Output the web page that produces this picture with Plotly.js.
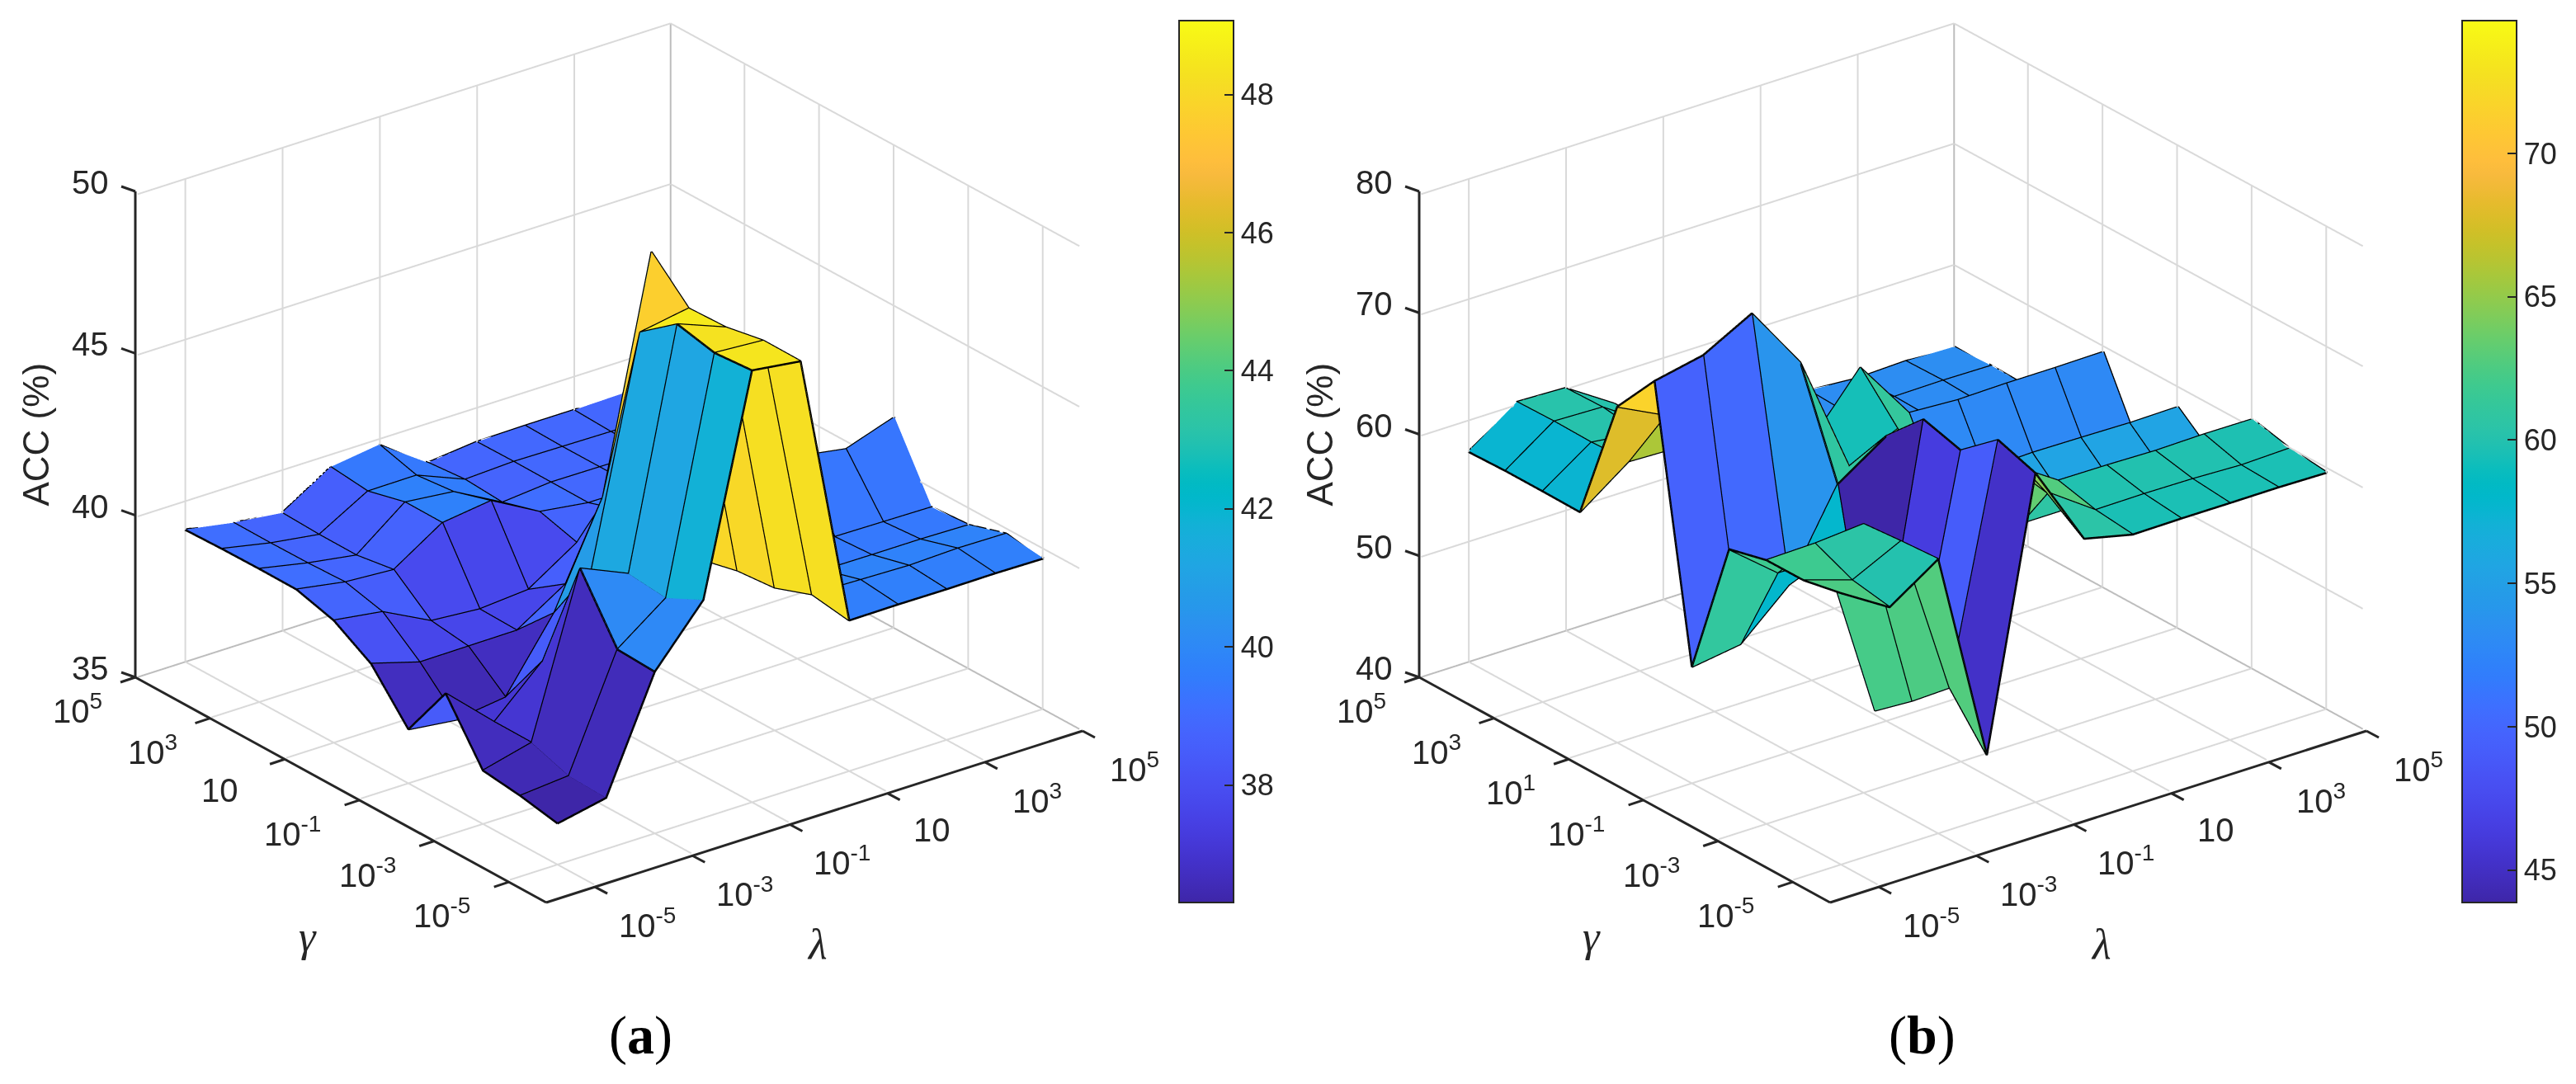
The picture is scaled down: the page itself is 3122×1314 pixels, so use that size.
<!DOCTYPE html>
<html><head><meta charset="utf-8">
<script src="https://cdn.plot.ly/plotly-3.0.1.min.js"></script>
<style>html,body{margin:0;padding:0;background:#fff}#plot{width:3122px;height:1314px}</style>
</head><body><div id="plot"></div>
<script>
const lambdaExp=[-5,-4,-3,-2,-1,0,1,2,3,4,5];
const gammaExp=[-5,-4,-3,-2,-1,0,1,2,3,4,5];
const tickExp=[-5,-3,-1,1,3,5];
const lambdaLabels=['10<sup>-5</sup>','10<sup>-3</sup>','10<sup>-1</sup>','10','10<sup>3</sup>','10<sup>5</sup>'];
const gammaLabelsA=['10<sup>-5</sup>','10<sup>-3</sup>','10<sup>-1</sup>','10','10<sup>3</sup>','10<sup>5</sup>'];
const gammaLabelsB=['10<sup>-5</sup>','10<sup>-3</sup>','10<sup>-1</sup>','10<sup>1</sup>','10<sup>3</sup>','10<sup>5</sup>'];
const zTicksA=[35,40,45,50];
const zTicksB=[40,50,60,70,80];
const cbarTicksA=[38,40,42,44,46,48];
const cbarTicksB=[45,50,55,60,65,70];
const zA=[
[36.30,36.61,40.03,41.77,48.39,48.19,39.69,39.70,39.69,39.70,39.68],
[36.53,36.66,40.09,41.20,48.30,48.20,39.87,39.83,39.79,39.84,39.82],
[36.68,37.06,41.97,41.32,48.56,47.98,39.45,39.50,39.49,39.49,39.46],
[38.44,37.07,38.48,40.80,47.68,47.94,39.35,39.42,39.42,39.40,39.38],
[36.70,36.52,36.72,38.85,41.95,49.06,39.08,40.00,41.28,41.03,41.54],
[38.10,37.66,37.67,37.68,38.63,41.20,39.20,39.00,38.95,38.95,38.95],
[38.81,38.59,37.83,37.71,37.83,38.80,39.30,38.95,38.92,38.92,38.92],
[39.14,38.88,38.78,39.75,39.95,39.13,38.92,38.92,38.90,38.90,38.90],
[39.15,38.84,38.60,39.76,39.60,38.79,38.93,38.92,38.90,38.90,38.90],
[39.14,38.83,38.61,39.47,39.48,38.87,38.94,38.92,38.90,38.90,38.90],
[39.11,38.84,38.66,39.60,39.81,38.77,38.93,38.95,38.95,38.98,38.95]];
const zB=[
[62.47,60.02,62.71,45.25,67.24,60.53,59.59,59.63,59.62,59.63,59.56],
[61.85,60.56,62.51,49.15,68.29,62.70,59.93,59.97,59.92,59.77,59.89],
[61.84,61.93,62.25,46.39,65.76,63.30,60.69,60.66,60.57,60.65,60.62],
[61.07,57.87,57.80,43.90,66.64,56.00,55.50,55.50,55.50,55.50,55.70],
[49.68,50.28,53.90,60.89,63.59,58.00,58.20,58.34,58.29,58.22,58.28],
[71.60,72.44,74.60,69.26,59.40,61.20,53.00,52.90,52.90,52.90,52.90],
[67.80,65.84,60.00,60.00,59.90,64.60,59.57,59.34,59.42,59.42,59.47],
[57.42,60.33,60.20,58.00,55.00,55.00,53.50,53.20,53.20,53.20,53.20],
[57.46,60.20,59.70,58.00,55.00,54.00,53.30,53.20,53.20,53.20,53.20],
[57.47,60.26,60.14,57.50,55.00,53.50,53.30,53.30,53.30,53.35,53.30],
[57.38,60.20,60.06,57.50,54.50,53.50,53.40,53.44,53.15,53.29,53.20]];
// Facet colours that differ from the corner height: [row, column, value]
const faceColourB=[[0,4,64.5],[1,4,64.5]];
const parulaRGB=[[.2422,.1504,.6603],[.2504,.165,.7076],[.2578,.1818,.7511],[.2647,.1978,.7952],[.2706,.2147,.8364],[.2751,.2342,.871],[.2783,.2559,.8991],[.2803,.2782,.9221],[.2813,.3006,.9414],[.281,.3228,.9579],[.2795,.3447,.9717],[.276,.3667,.9829],[.2699,.3892,.9906],[.2602,.4123,.9952],[.244,.4358,.9988],[.2206,.4603,.9973],[.1963,.4847,.9892],[.1834,.5074,.9798],[.1786,.5289,.9682],[.1764,.5499,.952],[.1687,.5703,.9359],[.154,.5902,.9218],[.146,.6091,.9079],[.138,.6276,.8973],[.1248,.6459,.8883],[.1113,.6635,.8763],[.0952,.6798,.8598],[.0689,.6948,.8394],[.0297,.7082,.8163],[.0036,.7203,.7917],[.0067,.7312,.766],[.0433,.7411,.7394],[.0964,.75,.712],[.1408,.7584,.6842],[.1717,.767,.6554],[.1938,.7758,.6251],[.2161,.7843,.5923],[.247,.7918,.5567],[.2906,.7973,.5188],[.3406,.8008,.4789],[.3909,.8029,.4354],[.4456,.8024,.3909],[.5044,.7993,.348],[.5616,.7942,.3045],[.6174,.7876,.2612],[.672,.7793,.2227],[.7242,.7698,.191],[.7738,.7598,.1646],[.8203,.7498,.1535],[.8634,.7406,.1596],[.9035,.733,.1774],[.9393,.7288,.21],[.9728,.7298,.2394],[.9956,.7434,.2371],[.997,.7659,.2199],[.9952,.7861,.1999],[.9892,.8086,.1827],[.9786,.831,.1661],[.9676,.8545,.1474],[.961,.8778,.1276],[.9597,.9036,.1118],[.9628,.9292,.1],[.9691,.9555,.09],[.9769,.9839,.0805]];
const parula=parulaRGB.map((c,n)=>[n/(parulaRGB.length-1),`rgb(${c.map(v=>Math.round(v*255)).join(',')})`]);

const W=3122,H=1314;
const INK='#262626', TICKFONT=40, FAM='"Liberation Sans",Arial,sans-serif';
const EYE_R=5;
const BOX=1.46;
const eyeDir={x:-0.553,y:-0.721,z:0.418};
const RANGE=[-6,5];

function meshTrace(Z,faces,cmin,cmax,cbTicks,cbLeft,scene){
  const x=[],y=[],z=[],I=[],J=[],K=[],col=[];
  const nr=gammaExp.length,nc=lambdaExp.length;
  const C=Z.map(r=>r.slice());faces.forEach(f=>{C[f[0]][f[1]]=f[2];});
  gammaExp.forEach((g,r)=>lambdaExp.forEach((l,c)=>{x.push(l);y.push(g);z.push(Z[r][c]);}));
  for(let r=0;r<nr-1;r++)for(let c=0;c<nc-1;c++){
    const a=r*nc+c,b=a+1,d=a+nc,e=d+1;
    I.push(a,a);J.push(b,e);K.push(e,d);col.push(C[r][c],C[r][c]);
  }
  return {type:'mesh3d',scene,x,y,z,i:I,j:J,k:K,intensity:col,intensitymode:'cell',flatshading:true,
    colorscale:parula,cmin,cmax,showscale:true,hoverinfo:'skip',
    lighting:{ambient:1,diffuse:0,specular:0,roughness:1,fresnel:0},
    colorbar:{x:cbLeft/W,xanchor:'left',xpad:0,ypad:0,y:1-25/H,yanchor:'top',lenmode:'pixels',len:1069,
      thicknessmode:'pixels',thickness:66,outlinewidth:2,outlinecolor:INK,ticks:'inside',ticklen:12,tickwidth:2,tickcolor:INK,
      tickmode:'array',tickvals:cbTicks,ticktext:cbTicks.map(String),tickfont:{family:FAM,size:36,color:INK}}};
}
// One trace per polyline: gaps inside a scatter3d line trace drop short runs.
function lineTraces(segments,color,width,scene){
  return segments.map(seg=>({type:'scatter3d',mode:'lines',scene,
    x:seg.map(p=>p[0]),y:seg.map(p=>p[1]),z:seg.map(p=>p[2]),
    line:{color,width},hoverinfo:'skip',showlegend:false}));
}
function edgeTraces(Z,scene){
  const segs=[];
  gammaExp.forEach((g,r)=>segs.push(lambdaExp.map((l,c)=>[l,g,Z[r][c]])));
  lambdaExp.forEach((l,c)=>segs.push(gammaExp.map((g,r)=>[l,g,Z[r][c]])));
  return lineTraces(segs,'#000',5,scene);
}
function gridTraces(zr,zTicks,scene){
  // Lines sitting exactly on the axis bounds get clipped unevenly, so they are held a hair inside them.
  const e=0.02, ze=(zr[1]-zr[0])*0.002;
  const lo=RANGE[0]+e, hi=RANGE[1]-e, zlo=zr[0]+ze, zhi=zr[1]-ze;
  const ins=t=>Math.min(hi,Math.max(lo,t));
  const zin=v=>Math.min(zhi,Math.max(zlo,v));
  const segs=[];
  tickExp.forEach(t=>{
    if(t!==RANGE[1]){
      segs.push([[ins(t),lo,zlo],[ins(t),hi,zlo]]);
      segs.push([[lo,ins(t),zlo],[hi,ins(t),zlo]]);
      segs.push([[ins(t),hi,zlo],[ins(t),hi,zhi]]);
      segs.push([[hi,ins(t),zlo],[hi,ins(t),zhi]]);
    }
  });
  zTicks.forEach((v,n)=>{
    if(n>0){
      segs.push([[lo,hi,zin(v)],[hi,hi,zin(v)]]);
      segs.push([[hi,lo,zin(v)],[hi,hi,zin(v)]]);
    }
  });
  const dark=[[[lo,hi,zlo],[hi,hi,zlo]],[[hi,lo,zlo],[hi,hi,zlo]],[[hi,hi,zlo],[hi,hi,zhi]]];
  return [...lineTraces(segs,'#d9d9d9',4,scene),...lineTraces(dark,'#bdbdbd',4,scene)];
}
function axis(range,tickvals){
  return {type:'linear',range,tickmode:'array',tickvals,showticklabels:false,title:{text:''},
    showgrid:false,zeroline:false,showbackground:false,showspikes:false,showline:false,ticks:''};
}
function sceneLayout(x0,x1,zr,zTicks){
  return {domain:{x:[x0/W,x1/W],y:[1-1119/H,1]},
    xaxis:axis(RANGE,tickExp),yaxis:axis(RANGE,tickExp),zaxis:axis(zr,zTicks),
    aspectmode:'manual',aspectratio:{x:BOX,y:BOX,z:0.792*BOX},
    camera:{eye:{x:eyeDir.x*EYE_R,y:eyeDir.y*EYE_R,z:eyeDir.z*EYE_R},up:{x:0,y:0,z:1},center:{x:0,y:0,z:0},projection:{type:'orthographic'}},
    bgcolor:'rgba(0,0,0,0)'};
}
const frac=v=>(v-RANGE[0])/(RANGE[1]-RANGE[0]);
const projector=frontX=>(lf,gf,zf)=>[frontX+650*lf-498*gf,1094-208*lf-273*gf-589*zf];
function labels(frontX,zr,zTicks,gammaLabels,gx){
  const P=projector(frontX);
  const out=[];
  const add=(pt,dx,dy,text,font,extra)=>out.push(Object.assign({xref:'paper',yref:'paper',x:(pt[0]+dx)/W,y:1-(pt[1]+dy)/H,text,showarrow:false,
    font:font||{family:FAM,size:TICKFONT,color:INK},xanchor:'center',yanchor:'middle'},extra||{}));
  tickExp.forEach((t,n)=>{
    add(P(frac(t),0,0),t===1?54:63,44,lambdaLabels[n]);
    add(P(0,frac(t),0),gx(t),38,gammaLabels[n]);
  });
  zTicks.forEach(t=>add(P(0,1,(t-zr[0])/(zr[1]-zr[0])),-30,-11,String(t),null,{xanchor:'right'}));
  const serif={family:'"Liberation Serif",serif',size:52,color:INK};
  add(P(0.5,0,0),3,154,'<i>λ</i>',serif);
  add(P(0,0.5,0),-40,178,'<i>γ</i>',serif);
  add(P(0,1,0.5),-121,0,'ACC (%)',{family:FAM,size:44,color:INK},{textangle:-90});
  return out;
}
function axisShapes(frontX,zr,zTicks){
  const P=projector(frontX), out=[];
  const seg=(a,b)=>out.push({type:'line',xref:'paper',yref:'paper',x0:a[0]/W,y0:1-a[1]/H,x1:b[0]/W,y1:1-b[1]/H,line:{color:INK,width:3},layer:'above'});
  seg(P(0,0,0),P(1,0,0));seg(P(0,0,0),P(0,1,0));seg(P(0,1,0),P(0,1,1));
  const off=(p,d)=>[p[0]+d[0],p[1]+d[1]];
  tickExp.forEach(t=>{
    const a=P(frac(t),0,0);seg(a,off(a,[15,8]));
    const b=P(0,frac(t),0);seg(b,off(b,[-18,6]));
  });
  zTicks.forEach(t=>{const a=P(0,1,(t-zr[0])/(zr[1]-zr[0]));seg(a,off(a,[-17,-6]));});
  return out;
}
const gxA=t=>t<0?-81:(t===1?-79:-70);
const gxB=t=>t<0?-81:-70;
const data=[
  ...gridTraces([35,50],zTicksA,'scene'),meshTrace(zA,[],36.30,49.07,cbarTicksA,1429,'scene'),...edgeTraces(zA,'scene'),
  ...gridTraces([40,80],zTicksB,'scene2'),meshTrace(zB,faceColourB,43.87,74.63,cbarTicksB,2984,'scene2'),...edgeTraces(zB,'scene2')];
const panelFont={family:'"Liberation Serif",serif',size:66,color:'#000'};
const layout={width:W,height:H,margin:{l:0,r:0,t:0,b:0},paper_bgcolor:'#fff',showlegend:false,hovermode:false,
  scene:sceneLayout(0,1475,[35,50],zTicksA),
  scene2:sceneLayout(1563,3023,[40,80],zTicksB),
  shapes:[...axisShapes(662,[35,50],zTicksA),...axisShapes(2218,[40,80],zTicksB)],
  annotations:[
    ...labels(662,[35,50],zTicksA,gammaLabelsA,gxA),
    ...labels(2218,[40,80],zTicksB,gammaLabelsB,gxB),
    {xref:'paper',yref:'paper',x:776/W,y:1-1255/H,text:'(<b>a</b>)',showarrow:false,font:panelFont,xanchor:'center',yanchor:'middle'},
    {xref:'paper',yref:'paper',x:2329/W,y:1-1255/H,text:'(<b>b</b>)',showarrow:false,font:panelFont,xanchor:'center',yanchor:'middle'}]};
Plotly.newPlot('plot',data,layout,{displayModeBar:false,responsive:false});
</script></body></html>
